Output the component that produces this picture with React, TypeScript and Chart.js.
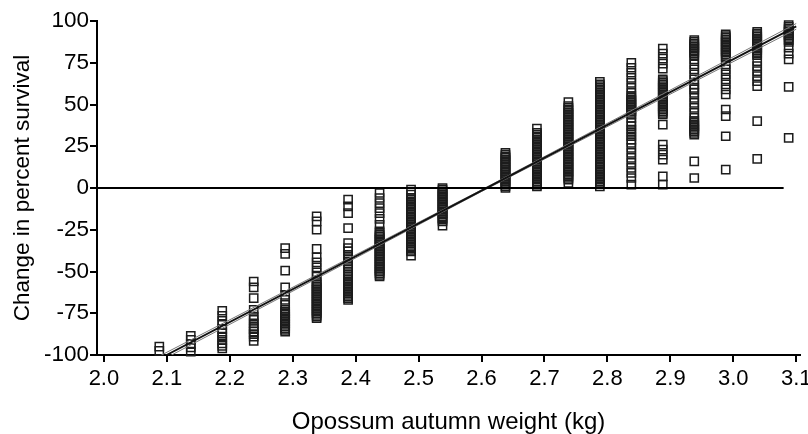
import React, { useEffect, useRef } from "react";
import { Chart, registerables } from "chart.js";

Chart.register(...registerables);

// Weight classes (kg) where survival changes were computed
const columnX = [
  2.088, 2.138, 2.188, 2.238, 2.288, 2.338, 2.388, 2.438, 2.488, 2.538,
  2.638, 2.688, 2.738, 2.788, 2.838, 2.888, 2.938, 2.988, 3.038, 3.088,
];

// Change in percent survival, one list per weight class
const c2088 = [-95, -97.5];
const c2138 = [-88.5, -91, -93.5, -95.5, -98];
const c2188 = [-73.5, -76.5, -79.5, -82, -84.5, -87, -89, -91, -93, -94.5, -96];
const c2238 = [-56, -59.5, -66, -73, -77, -79, -81, -83, -84.5, -86, -87.5, -89, -91.5];
const c2288 = [-36, -39.5, -49.5, -59.5, -64, -67, -70, -73, -74, -75, -76, -77, -78, -79, -80, -81, -82, -83, -84, -85, -86];
const c2338 = [-17, -20, -25, -36.5, -41.5, -44.5, -47.5, -50.5, -53, -56, -57, -58, -59, -60, -61, -62, -63, -64, -65, -66, -67, -68, -69, -70, -71, -72, -73, -74, -75, -76, -77, -78];
const c2388 = [-7, -11, -15, -24, -33, -36, -38, -40, -42, -44, -46, -48, -50, -52, -54, -55, -56, -57, -58, -59, -60, -61, -62, -63, -64, -65, -66, -67];
const c2438 = [-3, -6, -9, -12, -15, -18.5, -22, -26, -27, -28, -29, -30, -31, -32, -33, -34, -35, -36, -37, -38, -39, -40, -41, -42, -43, -44, -45, -46, -47, -48, -49, -50, -51, -52, -53];
const c2488 = [-1, -4, -6, -7, -8, -9, -10, -11, -12, -13, -14, -15, -16, -17, -18, -19, -20, -21, -22, -23, -24, -25, -26, -27, -28, -29, -30, -31, -32, -33, -34, -35, -36, -37, -38, -40.5];
const c2538 = [0, -1, -2, -3, -4, -5, -6, -7, -8, -9, -10, -11, -12, -13, -14, -15, -16, -17, -18, -19, -20, -22.5];
const c2638 = [21, 20, 19, 18, 17, 16, 15, 14, 13, 12, 11, 10, 9, 8, 7, 6, 5, 4, 3, 2, 1, 0];
const c2688 = [35.5, 33, 32, 31, 30, 29, 28, 27, 26, 25, 24, 23, 22, 21, 20, 19, 18, 17, 16, 15, 14, 13, 12, 11, 10, 9, 8, 7, 6, 5, 4, 3, 2, 1];
const c2738 = [51.5, 49, 48, 47, 46, 45, 44, 43, 42, 41, 40, 39, 38, 37, 36, 35, 34, 33, 32, 31, 30, 29, 28, 27, 26, 25, 24, 23, 22, 21, 20, 19, 18, 17, 16, 15, 14, 13, 12, 11, 10, 9, 8, 7, 6, 5, 3];
const c2788 = [63.5, 62, 61, 60, 59, 58, 57, 56, 55, 54, 53, 52, 51, 50, 49, 48, 47, 46, 45, 44, 43, 42, 41, 40, 39, 38, 37, 36, 35, 34, 33, 32, 31, 30, 29, 28, 27, 26, 25, 24, 23, 22, 21, 20, 19, 18, 17, 16, 15, 14, 13, 12, 11, 10, 9, 8, 7, 6, 5, 4, 3, 1];
const c2838 = [75, 72, 69, 66, 63, 60, 57, 55, 54, 53, 52, 51, 50, 49, 48, 47, 46, 45, 44, 42, 39, 37, 35, 33, 31, 29, 27, 24, 21, 18, 15, 12, 9, 6, 2];
const c2888 = [83.5, 80.5, 77.5, 74.5, 71.5, 65, 64, 63, 62, 61, 60, 59, 58, 57, 56, 55, 54, 53, 52, 51, 50, 49, 48, 47, 46, 45, 44, 38, 26, 23, 20, 17, 7, 2];
const c2938 = [88.5, 87.5, 86.5, 85.5, 84.5, 83.5, 82.5, 81.5, 80.5, 79.5, 77, 74, 71, 68, 65, 62, 60, 59, 57, 54, 51, 48, 45, 42, 40, 39, 38, 37, 36, 35, 34, 33, 32, 16, 6];
const c2988 = [92, 91, 90, 89, 88, 87, 86, 85, 84, 83, 82, 81, 80, 79, 78, 74, 71, 68, 65, 62, 59, 56, 47, 43, 31, 11];
const c3038 = [93.5, 92.5, 91.5, 90.5, 89.5, 88.5, 87.5, 86.5, 85.5, 84.5, 83.5, 82.5, 81.5, 80.5, 79.5, 76, 73, 70, 67, 64, 61, 40, 17.5];
const c3088 = [97.5, 96.5, 95.5, 94.5, 93.5, 92.5, 91.5, 90.5, 89.5, 88.5, 87.5, 84, 80.5, 77, 60.5, 30];

const columnValues = [
  c2088, c2138, c2188, c2238, c2288, c2338, c2388, c2438, c2488, c2538,
  c2638, c2688, c2738, c2788, c2838, c2888, c2938, c2988, c3038, c3088,
];

// Fitted regression line and its confidence band
const fitX = [2.09, 2.6, 3.1];
const fitY = [-101.9, -1.6, 96.8];
const upperY = [-100.3, -1.1, 98.5];
const lowerY = [-103.5, -2.1, 95.1];

// Reference line at zero change
const zeroX = [1.989, 3.08];
const zeroY = [0, 0];

// Axis ticks
const xTicks = [2.0, 2.1, 2.2, 2.3, 2.4, 2.5, 2.6, 2.7, 2.8, 2.9, 3.0, 3.1];
const yTicks = [-100, -75, -50, -25, 0, 25, 50, 75, 100];

const FONT = "'Liberation Sans', Arial, sans-serif";

export default function App() {
  const ref = useRef<HTMLCanvasElement | null>(null);

  useEffect(() => {
    if (!ref.current) return;
    const points: { x: number; y: number }[] = [];
    columnX.forEach((x, i) => {
      columnValues[i].forEach((y) => points.push({ x, y }));
    });
    const toXY = (xs: number[], ys: number[]) => xs.map((x, i) => ({ x, y: ys[i] }));

    const chart = new Chart(ref.current, {
      type: "scatter",
      data: {
        datasets: [
          {
            type: "line",
            label: "zero",
            data: toXY(zeroX, zeroY),
            borderColor: "#000",
            borderWidth: 2,
            pointRadius: 0,
            showLine: true,
          },
          {
            type: "line",
            label: "fit",
            data: toXY(fitX, fitY),
            borderColor: "#111",
            borderWidth: 1.8,
            pointRadius: 0,
            showLine: true,
          },
          {
            type: "line",
            label: "upper",
            data: toXY(fitX, upperY),
            borderColor: "#777",
            borderWidth: 1,
            pointRadius: 0,
            showLine: true,
          },
          {
            type: "line",
            label: "lower",
            data: toXY(fitX, lowerY),
            borderColor: "#777",
            borderWidth: 1,
            pointRadius: 0,
            showLine: true,
          },
          {
            label: "survival",
            data: points,
            pointStyle: "rect",
            pointRadius: 5.8,
            pointBorderWidth: 1.5,
            pointBorderColor: "#1c1c1c",
            pointBackgroundColor: "rgba(255,255,255,0)",
            clip: false as any,
          },
        ],
      },
      options: {
        animation: false,
        responsive: true,
        maintainAspectRatio: false,
        layout: { padding: { top: 21, right: 8, left: 0, bottom: 0 } },
        plugins: { legend: { display: false }, tooltip: { enabled: false } },
        scales: {
          x: {
            type: "linear",
            min: 1.989,
            max: 3.106,
            afterBuildTicks: (axis: any) => {
              axis.ticks = xTicks.map((v) => ({ value: v }));
            },
            afterFit: (axis: any) => {
              axis.height = 79;
              axis.paddingLeft = 0;
              axis.paddingRight = 0;
            },
            ticks: {
              color: "#000",
              font: { family: FONT, size: 22 },
              padding: 4,
              maxRotation: 0,
              autoSkip: false,
              callback: (v: any) => Number(v).toFixed(1),
            },
            grid: {
              display: true,
              drawOnChartArea: false,
              drawTicks: true,
              tickLength: 7,
              color: "#000",
              lineWidth: 2,
            },
            border: { display: true, color: "#000", width: 2 },
            title: {
              display: true,
              text: "Opossum autumn weight (kg)",
              color: "#000",
              font: { family: FONT, size: 24, lineHeight: 1.0 },
              padding: { top: 0, bottom: 0 },
            },
          },
          y: {
            type: "linear",
            min: -100,
            max: 100,
            afterBuildTicks: (axis: any) => {
              axis.ticks = yTicks.map((v) => ({ value: v }));
            },
            afterFit: (axis: any) => {
              axis.width = 97;
              axis.paddingTop = 0;
              axis.paddingBottom = 0;
            },
            ticks: {
              color: "#000",
              font: { family: FONT, size: 22.5 },
              padding: 1,
              autoSkip: false,
            },
            grid: {
              display: true,
              drawOnChartArea: false,
              drawTicks: true,
              tickLength: 7,
              color: "#000",
              lineWidth: 2,
            },
            border: { display: true, color: "#000", width: 2 },
            title: {
              display: true,
              text: "Change in percent survival",
              color: "#000",
              font: { family: FONT, size: 22.5 },
              padding: { top: 9, bottom: 0 },
            },
          },
        },
      },
    });
    return () => chart.destroy();
  }, []);

  return (
    <div style={{ position: "fixed", left: 0, top: 0, width: 808, height: 434, background: "#fff" }}>
      <canvas ref={ref} />
    </div>
  );
}
